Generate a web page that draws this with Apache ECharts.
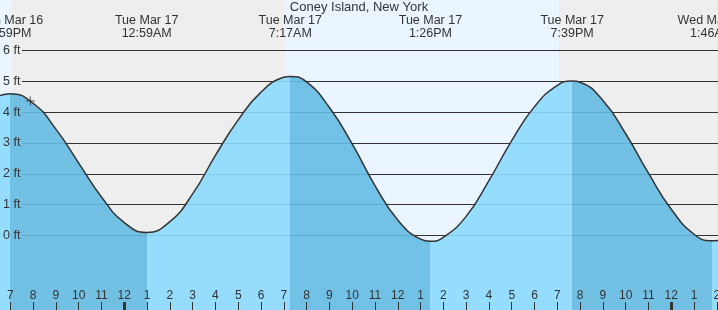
<!DOCTYPE html>
<html><head><meta charset="utf-8">
<script src="https://cdn.jsdelivr.net/npm/echarts@6/dist/echarts.min.js"></script>
<style>html,body{margin:0;padding:0;background:#fff}#c{width:718px;height:310px}</style>
</head><body><div id="c"></div>
<script>
// ---- data (hours since Mon Mar 16 00:00) ----
const chartTitle = 'Coney Island, New York';
const tideTimes  = [18.548, 18.983, 20, 21, 22, 23, 24, 24.983, 26, 27, 28, 29, 30, 31, 31.283, 32, 33, 34, 35, 36, 37, 37.433, 38, 39, 40, 41, 42, 43, 43.650, 44, 45, 46, 47, 48, 49, 49.767, 50.050];
const tideLevels = [4.54, 4.60, 4.29, 3.45, 2.35, 1.25, 0.42, 0.10, 0.45, 1.35, 2.60, 3.75, 4.65, 5.13, 5.16, 4.98, 4.15, 2.97, 1.62, 0.50, -0.12, -0.19, -0.06, 0.62, 1.78, 3.08, 4.18, 4.87, 5.01, 4.97, 4.38, 3.30, 2.02, 0.85, 0.04, -0.17, -0.16];
const extremeTimes = [18.983, 24.983, 31.283, 37.433, 43.650, 49.767];
const extremeTypes = ['H', 'L', 'H', 'L', 'H', 'L'];
const extremeDates = ['Mon Mar 16', 'Tue Mar 17', 'Tue Mar 17', 'Tue Mar 17', 'Tue Mar 17', 'Wed Mar 18'];
const extremeClock = ['6:59PM', '12:59AM', '7:17AM', '1:26PM', '7:39PM', '1:46AM'];
const nightStarts = [19.075, 43.078];
const nightEnds   = [31.054, 50.050];
const hourTimes  = [19,20,21,22,23,24,25,26,27,28,29,30,31,32,33,34,35,36,37,38,39,40,41,42,43,44,45,46,47,48,49,50];
const hourLabels = ['7','8','9','10','11','12','1','2','3','4','5','6','7','8','9','10','11','12','1','2','3','4','5','6','7','8','9','10','11','12','1','2'];
const midnightTimes = [24, 48];
const levelTicks  = [0, 1, 2, 3, 4, 5, 6];
const levelLabels = ['0 ft', '1 ft', '2 ft', '3 ft', '4 ft', '5 ft', '6 ft'];
const nowTime = 19.878;
const nowLevel = 4.36;
const axisStart = 18.548, axisEnd = 50.050;
const levelMin = -2.416, levelMax = 7.638;

// ---- styles ----
const FONT = 'Liberation Sans, Arial, sans-serif';
const INK = '#333';
const RISING = 'rgba(140,218,254,0.9)';
const FALLING = 'rgba(100,187,227,0.9)';

function idx(arr, v) { return arr.findIndex(a => Math.abs(a - v) < 1e-6); }

const pieces = [{ lt: extremeTimes[0], color: RISING }];
extremeTimes.forEach((t, i) => {
  const p = { gte: t, color: extremeTypes[i] === 'H' ? FALLING : RISING };
  if (i + 1 < extremeTimes.length) p.lt = extremeTimes[i + 1];
  pieces.push(p);
});

const hiddenLine = { show: false, onZero: false };

const chart = echarts.init(document.getElementById('c'));
chart.setOption({
  animation: false,
  backgroundColor: '#eaf5ff',
  textStyle: { fontFamily: FONT },
  title: {
    text: chartTitle, left: 'center', top: 1, padding: 0,
    textStyle: { fontSize: 13, fontWeight: 'normal', color: INK, fontFamily: FONT }
  },
  grid: { left: 0, right: 0, top: 0, bottom: 0, containLabel: false, outerBoundsMode: 'none' },
  visualMap: { show: false, type: 'piecewise', seriesIndex: 0, dimension: 0, pieces: pieces },
  xAxis: [
    {
      type: 'value', min: axisStart, max: axisEnd, position: 'bottom', z: 3,
      axisLine: hiddenLine, splitLine: { show: false },
      axisTick: { show: true, inside: true, length: 8, customValues: hourTimes, lineStyle: { color: INK, width: 1 } },
      axisLabel: { inside: true, margin: 8, customValues: hourTimes, fontSize: 12, color: INK, fontFamily: FONT,
        formatter: v => hourLabels[idx(hourTimes, v)] }
    },
    {
      type: 'value', min: axisStart, max: axisEnd, position: 'top', z: 3,
      axisLine: hiddenLine, splitLine: { show: false }, axisTick: { show: false },
      axisLabel: { inside: true, margin: 14, customValues: extremeTimes, fontSize: 12.5, lineHeight: 13, color: INK, fontFamily: FONT,
        formatter: v => { const i = idx(extremeTimes, v); return extremeDates[i] + '\n' + extremeClock[i]; } }
    },
    {
      type: 'value', min: axisStart, max: axisEnd, position: 'bottom', z: 3,
      axisLine: hiddenLine, splitLine: { show: false }, axisLabel: { show: false },
      axisTick: { show: true, inside: true, length: 8, customValues: midnightTimes, lineStyle: { color: INK, width: 3 } }
    }
  ],
  yAxis: {
    type: 'value', min: levelMin, max: levelMax, z: 3,
    axisLine: hiddenLine, axisTick: { show: false }, splitLine: { show: false },
    axisLabel: { inside: true, margin: 3, customValues: levelTicks, fontSize: 12.5, color: INK, fontFamily: FONT,
      formatter: v => levelLabels[idx(levelTicks, v)] }
  },
  series: [
    {
      type: 'line', z: 2, xAxisIndex: 0,
      data: tideTimes.map((t, i) => [t, tideLevels[i]]),
      smooth: true, showSymbol: false, symbol: 'none', silent: true,
      lineStyle: { color: INK, width: 1.5 },
      areaStyle: { opacity: 1, origin: 'start' },
      markArea: {
        silent: true, z: 0,
        data: nightStarts.map((s, i) => [{ xAxis: s, itemStyle: { color: '#eeeeee' } }, { xAxis: nightEnds[i] }])
      },
      markLine: {
        silent: true, z: 1, symbol: ['none', 'none'], label: { show: false },
        lineStyle: { color: INK, width: 1, type: 'solid' },
        data: levelTicks.map(v => [{ x: 22, yAxis: v }, { x: '100%', yAxis: v }])
      }
    },
    {
      type: 'scatter', z: 4, xAxisIndex: 0, silent: true,
      data: [[nowTime, nowLevel]],
      symbol: 'path://M4,0H5V9H4ZM0,4H9V5H0Z', symbolSize: 9,
      itemStyle: { color: INK }
    }
  ]
});
</script>
</body></html>
